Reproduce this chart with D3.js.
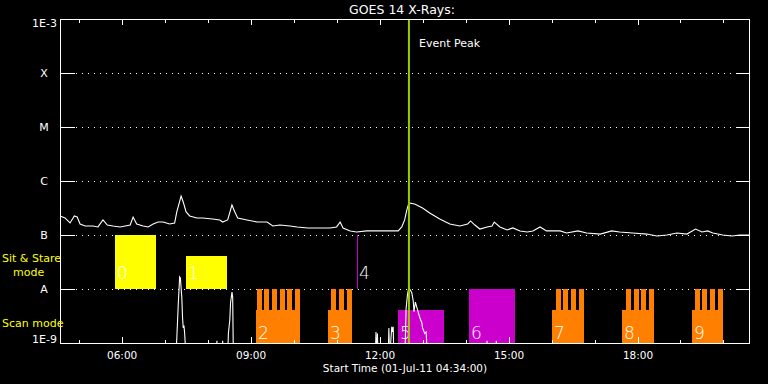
<!DOCTYPE html>
<html>
<head>
<meta charset="utf-8">
<script src="https://cdn.jsdelivr.net/npm/d3@7/dist/d3.min.js"></script>
<style>
  html, body { margin: 0; padding: 0; background: #000; }
  svg { display: block; }
  text { font-family: "DejaVu Sans", sans-serif; }
</style>
</head>
<body>
<svg id="chart" width="768" height="384"></svg>
<script>
// ---------------- DATA ----------------
const title = "GOES 14 X-Rays:";
const startTime = "04:34";
const endTime = "20:37";
const xAxisTitle = "Start Time (01-Jul-11 04:34:00)";
const majorTickLabels = ["06:00", "09:00", "12:00", "15:00", "18:00"];
const minorTickLabels = ["05:00","06:00","07:00","08:00","09:00","10:00","11:00","12:00","13:00","14:00","15:00","16:00","17:00","18:00","19:00","20:00"];
const yTickValues = [1e-9, 1e-8, 1e-7, 1e-6, 1e-5, 1e-4, 1e-3];
const yTickLabels = ["1E-9", "A", "B", "C", "M", "X", "1E-3"];
const gridValues = [1e-8, 1e-7, 1e-6, 1e-5, 1e-4];
const eventPeakTime = "12:41";
const eventPeakLabel = "Event Peak";

// GOES long channel (1-8 A)
const longTimes = ["04:34","04:41","04:48","04:54","04:58","05:02","05:09","05:20","05:27","05:34","05:40","05:48","05:58","06:05","06:12","06:16","06:21","06:30","06:37","06:44","06:51","06:58","07:07","07:14","07:17","07:23","07:26","07:30","07:35","07:45","07:53","08:07","08:17","08:21","08:28","08:34","08:38","08:42","08:55","09:09","09:23","09:31","09:41","09:55","10:05","10:20","10:37","10:51","11:00","11:05","11:09","11:19","11:28","11:42","12:00","12:15","12:26","12:31","12:35","12:38","12:41","12:49","13:00","13:10","13:24","13:38","13:52","14:03","14:07","14:13","14:20","14:30","14:37","14:40","14:48","14:58","15:06","15:16","15:26","15:34","15:44","15:53","16:12","16:21","16:37","16:49","17:08","17:24","17:35","17:53","18:13","18:27","18:41","18:55","19:09","19:21","19:30","19:38","19:45","19:59","20:12","20:23","20:37"];
const longFlux = [2.25e-7,2.07e-7,1.67e-7,2.25e-7,2.15e-7,1.60e-7,1.47e-7,1.47e-7,1.41e-7,1.90e-7,1.53e-7,1.47e-7,1.41e-7,1.47e-7,1.53e-7,2.15e-7,1.60e-7,1.47e-7,1.41e-7,1.60e-7,1.74e-7,1.74e-7,1.60e-7,1.67e-7,2.67e-7,5.27e-7,4.08e-7,2.67e-7,2.25e-7,2.07e-7,2.07e-7,1.98e-7,1.90e-7,1.74e-7,1.90e-7,3.59e-7,2.67e-7,2.07e-7,1.90e-7,1.74e-7,1.74e-7,1.47e-7,1.53e-7,1.47e-7,1.41e-7,1.35e-7,1.35e-7,1.35e-7,1.41e-7,1.74e-7,1.35e-7,1.19e-7,1.14e-7,1.19e-7,1.19e-7,1.19e-7,1.19e-7,1.41e-7,1.90e-7,2.90e-7,3.92e-7,3.75e-7,3.16e-7,2.55e-7,1.98e-7,1.60e-7,1.47e-7,1.60e-7,1.82e-7,1.53e-7,1.29e-7,1.41e-7,1.47e-7,1.74e-7,1.41e-7,1.24e-7,1.35e-7,1.19e-7,1.14e-7,1.19e-7,1.41e-7,1.19e-7,1.19e-7,1.09e-7,1.19e-7,1.09e-7,1.04e-7,1.19e-7,1.14e-7,1.09e-7,1.04e-7,0.96e-7,1.00e-7,1.09e-7,1.04e-7,1.29e-7,1.14e-7,1.19e-7,1.09e-7,1.00e-7,0.96e-7,1.00e-7,1.00e-7];

// GOES short channel (0.5-4 A)
const shortTimes = ["04:34","07:15","07:17","07:19","07:21","07:22","07:24","07:25","07:26","07:27","07:28","07:30","08:12","08:13","08:14","08:20","08:21","08:22","08:28","08:29","08:31","08:32","08:34","08:35","08:36","11:54","11:55","11:56","11:57","11:58","12:12","12:13","12:14","12:17","12:18","12:19","12:20","12:35","12:36","12:37","12:39","12:41","12:42","12:45","12:47","12:48","12:50","12:53","12:56","12:59","13:00","13:03","13:05","13:07","14:29","14:30","14:31","14:42","14:43","14:44","20:37"];
const shortFlux = [5e-10,5e-10,1.2e-9,5e-9,1.67e-8,1.6e-8,7e-9,3e-9,1.9e-9,2.1e-9,1.5e-9,5e-10,5e-10,1.1e-9,5e-10,5e-10,1.1e-9,5e-10,5e-10,1.5e-9,2.7e-9,5.5e-9,8.8e-9,7e-9,5e-10,5e-10,1.6e-9,5e-10,1.5e-9,5e-10,5e-10,1.9e-9,5e-10,2e-9,1.6e-9,2e-9,5e-10,5e-10,1.2e-9,4.3e-9,8e-9,1.1e-8,1.0e-8,8.5e-9,6e-9,3.8e-9,5.7e-9,4.1e-9,3.0e-9,2.35e-9,1.9e-9,1.5e-9,1.6e-9,5e-10,5e-10,1.1e-9,5e-10,5e-10,1.1e-9,5e-10,5e-10];

// Observation blocks
const obsIds   = ["0","1","2","3","4","5","6","7","8","9"];
const obsKind  = ["sit","sit","raster","raster","other","other","other","raster","raster","raster"];
const obsStart = ["05:51","07:30","09:08","10:48","11:28","12:26","14:05","16:01","17:38","19:16"];
const obsEnd   = ["06:48","08:27","10:09","11:21","11:29","13:30","15:09","16:45","18:23","19:59"];
const obsLow   = [1e-8,1e-8,1e-9,1e-9,1e-8,1e-9,1e-9,1e-9,1e-9,1e-9];
const obsHigh  = [1e-7,4.1e-8,4.1e-9,4.1e-9,1e-7,4.1e-9,1e-8,4.1e-9,4.1e-9,4.1e-9];
const obsSteps = [0,0,6,3,0,0,0,4,4,4];
const stepHigh = 1e-8;
const stepPeriodMin = 10.7;
const stepDwellMin = 7;

const modeLabels = [["Sit & Stare", "mode"], ["Scan mode"]];

// ---------------- DRAW ----------------
const toMin = s => { const [h, m] = s.split(":").map(Number); return h * 60 + m; };
const W = 768, H = 384;
const pL = 60, pR = 750, pT = 19, pB = 343;

const x = d3.scaleLinear().domain([toMin(startTime), toMin(endTime)]).range([pL, pR]);
const y = d3.scaleLog().domain([1e-9, 1e-3]).range([pB, pT]);

const kindColor = { sit: "#ffff00", raster: "#ff8000", other: "#cc00cc" };

const svg = d3.select("#chart");
svg.append("rect").attr("width", W).attr("height", H).attr("fill", "#000");

svg.append("defs").append("clipPath").attr("id", "plot")
  .append("rect").attr("x", pL).attr("y", pT).attr("width", pR - pL).attr("height", pB - pT);

// grid
svg.append("g").selectAll("line").data(gridValues).join("line")
  .attr("x1", pL + 16).attr("x2", pR - 14)
  .attr("y1", d => Math.round(y(d)) + 0.5).attr("y2", d => Math.round(y(d)) + 0.5)
  .attr("stroke", "#fff").attr("stroke-width", 1).attr("stroke-dasharray", "1,5")
  .attr("shape-rendering", "crispEdges");

// observation blocks
const obs = obsIds.map((id, i) => ({
  id, kind: obsKind[i], s: toMin(obsStart[i]), e: toMin(obsEnd[i]),
  lo: obsLow[i], hi: obsHigh[i], steps: obsSteps[i]
}));
const gObs = svg.append("g").attr("shape-rendering", "crispEdges");
obs.forEach(o => {
  const col = kindColor[o.kind];
  const x0 = Math.round(x(o.s)), x1 = Math.round(x(o.e));
  gObs.append("rect").attr("x", x0).attr("width", Math.max(1, x1 - x0))
    .attr("y", Math.round(y(o.hi))).attr("height", Math.round(y(o.lo)) - Math.round(y(o.hi)))
    .attr("fill", col);
  const teeth = d3.range(o.steps).map(k => o.e - k * stepPeriodMin);
  gObs.selectAll(null).data(teeth).enter().append("rect")
    .attr("x", d => Math.round(x(d - stepDwellMin)))
    .attr("width", d => Math.round(x(d)) - Math.round(x(d - stepDwellMin)))
    .attr("y", Math.round(y(stepHigh)))
    .attr("height", Math.round(y(o.hi)) - Math.round(y(stepHigh)))
    .attr("fill", col);
});

// curves
const line = d3.line().x(d => x(d[0])).y(d => y(d[1]));
const gCurves = svg.append("g").attr("clip-path", "url(#plot)");
gCurves.append("path")
  .datum(longTimes.map((t, i) => [toMin(t), longFlux[i]]))
  .attr("d", line).attr("fill", "none").attr("stroke", "#fff").attr("stroke-width", 1.1);
gCurves.append("path")
  .datum(shortTimes.map((t, i) => [toMin(t), shortFlux[i]]))
  .attr("d", line).attr("fill", "none").attr("stroke", "#fff").attr("stroke-width", 1.1);

// block labels
svg.append("g").selectAll("text").data(obs).join("text")
  .attr("x", d => Math.round(x(d.s)) + 2)
  .attr("y", d => d.lo === 1e-8 ? y(d.lo) - 10 : y(d.lo) - 4)
  .attr("fill", "#fff").attr("font-size", 17).attr("font-weight", 200)
  .text(d => d.id);

// event peak
svg.append("line")
  .attr("x1", x(toMin(eventPeakTime))).attr("x2", x(toMin(eventPeakTime)))
  .attr("y1", pT).attr("y2", pB)
  .attr("stroke", "#99cc00").attr("stroke-width", 2);
svg.append("text").attr("x", x(toMin(eventPeakTime)) + 10).attr("y", 47)
  .attr("fill", "#fff").attr("font-size", 11).text(eventPeakLabel);

// frame
svg.append("rect").attr("x", pL + 0.5).attr("y", pT + 0.5)
  .attr("width", pR - pL - 1).attr("height", pB - pT)
  .attr("fill", "none").attr("stroke", "#fff").attr("stroke-width", 1)
  .attr("shape-rendering", "crispEdges");

// axes ticks
const minorVals = minorTickLabels.map(toMin);
const majorVals = majorTickLabels.map(toMin);
function styleAxis(g) {
  g.select(".domain").remove();
  g.selectAll("line").attr("stroke", "#fff").attr("shape-rendering", "crispEdges");
  g.selectAll("text").attr("fill", "#fff");
}
svg.append("g").attr("transform", `translate(0,${pB})`)
  .call(d3.axisBottom(x).tickValues(minorVals).tickSize(-3).tickFormat("")).call(styleAxis);
svg.append("g").attr("transform", `translate(0,${pT})`)
  .call(d3.axisTop(x).tickValues(minorVals).tickSize(-4).tickFormat("")).call(styleAxis);
svg.append("g").attr("transform", `translate(0,${pB})`)
  .call(d3.axisBottom(x).tickValues(majorVals).tickSize(-6).tickPadding(9)
    .tickFormat((d, i) => majorTickLabels[i]))
  .call(styleAxis)
  .call(g => g.selectAll("text").attr("font-size", 10.5).attr("font-family", "DejaVu Sans"));
svg.append("g").attr("transform", `translate(0,${pT})`)
  .call(d3.axisTop(x).tickValues(majorVals).tickSize(-6).tickFormat("")).call(styleAxis);

svg.append("g").attr("transform", `translate(${pL},0)`)
  .call(d3.axisLeft(y).tickValues(yTickValues).tickSize(-15).tickFormat("")).call(styleAxis);
svg.append("g").attr("transform", `translate(${pR},0)`)
  .call(d3.axisRight(y).tickValues(yTickValues).tickSize(-14).tickFormat("")).call(styleAxis);

// y labels
svg.append("g").selectAll("text").data(yTickValues).join("text")
  .attr("x", (d, i) => yTickLabels[i].length > 1 ? 57 : 44)
  .attr("y", (d, i) => i === 0 ? y(d) : (i === yTickValues.length - 1 ? y(d) + 8 : y(d) + 4))
  .attr("text-anchor", (d, i) => yTickLabels[i].length > 1 ? "end" : "middle")
  .attr("fill", "#fff").attr("font-size", 11)
  .text((d, i) => yTickLabels[i]);

// mode labels
svg.append("text").attr("x", 2).attr("y", 262).attr("fill", "#ffff00").attr("font-size", 11).text(modeLabels[0][0]);
svg.append("text").attr("x", 13).attr("y", 275.5).attr("fill", "#ffff00").attr("font-size", 11).text(modeLabels[0][1]);
svg.append("text").attr("x", 2).attr("y", 327).attr("fill", "#ffff00").attr("font-size", 11).text(modeLabels[1][0]);

// titles
svg.append("text").attr("x", (pL + pR) / 2 - 3).attr("y", 14).attr("text-anchor", "middle")
  .attr("fill", "#fff").attr("font-size", 12.5).text(title);
svg.append("text").attr("x", (pL + pR) / 2).attr("y", 372).attr("text-anchor", "middle")
  .attr("fill", "#fff").attr("font-size", 10.5).text(xAxisTitle);
</script>
</body>
</html>
